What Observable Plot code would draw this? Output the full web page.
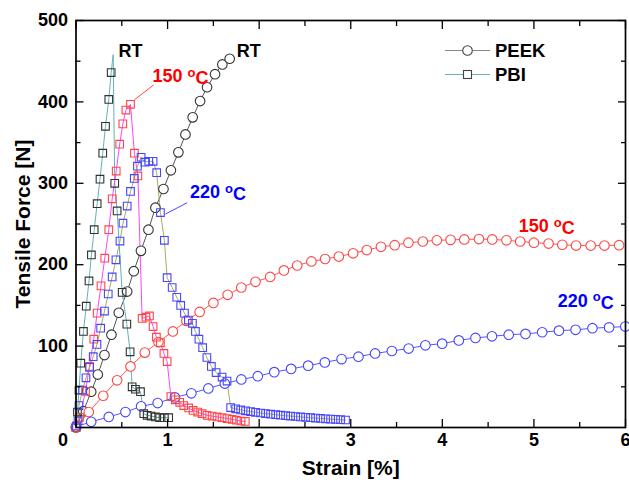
<!DOCTYPE html>
<html><head><meta charset="utf-8">
<script src="https://cdn.jsdelivr.net/npm/d3@7"></script>
<script src="https://cdn.jsdelivr.net/npm/@observablehq/plot@0.6"></script>
<style>
body{margin:0;background:#fff;}
#chart{width:629px;height:482px;}
</style>
</head><body><div id="chart"></div>
<script>
// ---------- axis ticks & titles ----------
const xTicks = [0, 1, 2, 3, 4, 5, 6];
const xMinorTicks = [0.5, 1.5, 2.5, 3.5, 4.5, 5.5];
const yTicks = [100, 200, 300, 400, 500];
const yMinorTicks = [50, 150, 250, 350, 450];
const xTitle = "Strain [%]";
const yTitle = "Tensile Force [N]";
const legendLabels = ["PEEK", "PBI"];

// ---------- PEEK ----------
const peekRT_strain = [0, 0.08, 0.166, 0.238, 0.311, 0.387, 0.467, 0.559, 0.631, 0.709, 0.791, 0.867, 0.955, 1.036, 1.118, 1.195, 1.274, 1.355, 1.431, 1.518, 1.598, 1.678];
const peekRT_force  = [0, 20, 44, 65, 89, 114, 141, 167, 192, 217, 243, 270, 293, 316, 338, 360, 381, 401, 418, 434, 446, 453];

const peek150_strain = [0, 0.14, 0.297, 0.449, 0.595, 0.751, 0.9, 1.058, 1.205, 1.35, 1.5, 1.656, 1.805, 1.96, 2.12, 2.27, 2.415, 2.57, 2.72, 2.87, 3.026, 3.175, 3.33, 3.48, 3.63, 3.787, 3.94, 4.09, 4.24, 4.4, 4.545, 4.7, 4.85, 5.0, 5.16, 5.31, 5.46, 5.62, 5.77, 5.93];
const peek150_force  = [0, 19, 39, 58, 75, 92, 105, 118, 131, 142, 153, 163, 172, 179, 185, 193, 199, 204, 207, 210, 214, 218, 222, 224, 227, 228.5, 230, 230.5, 231, 231.5, 231, 230, 228.5, 227, 226, 224.5, 223.5, 223.5, 223.5, 224];

const peek220_strain = [0, 0.166, 0.358, 0.54, 0.711, 0.892, 1.08, 1.26, 1.445, 1.625, 1.805, 1.985, 2.165, 2.349, 2.535, 2.717, 2.9, 3.084, 3.266, 3.449, 3.632, 3.815, 3.998, 4.18, 4.362, 4.542, 4.725, 4.908, 5.09, 5.273, 5.455, 5.639, 5.821, 5.998];
const peek220_force  = [1, 7, 13, 19, 26, 30, 37, 42, 48, 54, 59, 63, 68, 72, 76, 80, 84, 87, 91, 94, 97, 101, 103, 107, 110, 112, 114, 115, 117, 119, 120, 122, 123, 124];

// ---------- PBI ----------
const pbiRT_strain = [0, 0.016, 0.033, 0.052, 0.081, 0.112, 0.142, 0.168, 0.199, 0.231, 0.262, 0.292, 0.322, 0.358, 0.384, 0.423, 0.449, 0.504, 0.555, 0.591, 0.613, 0.649, 0.704, 0.74, 0.777, 0.82, 0.867, 0.914, 0.965, 1.012];
const pbiRT_force  = [0, 19, 46, 79, 118, 149, 180, 212, 243, 275, 305, 337, 370, 403, 436, 300, 266, 166, 127, 93, 50, 47, 44, 17, 15, 14, 13, 12, 12, 12];
const pbiRT_peak = {strain: 0.406, force: 458, after: 15};   // unmarked line vertex (break point)

const pbi150_strain = [0, 0.038, 0.104, 0.147, 0.194, 0.231, 0.273, 0.314, 0.358, 0.395, 0.439, 0.477, 0.511, 0.545, 0.595, 0.638, 0.676, 0.722, 0.764, 0.802, 0.842, 0.878, 0.922, 0.96, 0.995, 1.036, 1.085, 1.132, 1.176, 1.23, 1.278, 1.329, 1.377, 1.431, 1.486, 1.54, 1.595, 1.649, 1.704, 1.751, 1.802, 1.849];
const pbi150_force  = [0, 12.5, 44.5, 75, 108.5, 140.5, 174, 208, 243, 281, 315, 348, 373, 390, 397, 337, 309, 134, 135.5, 137, 124, 111, 104, 91, 81, 38, 34, 31, 27, 24, 21, 19, 17, 15, 14, 13, 12, 11, 10, 9, 8, 7.5];

const pbi220_strain = [0.005, 0.022, 0.033, 0.071, 0.109, 0.149, 0.188, 0.229, 0.269, 0.311, 0.352, 0.395, 0.436, 0.48, 0.513, 0.559, 0.595, 0.636, 0.671, 0.711, 0.753, 0.794, 0.842, 0.881, 0.922, 0.965, 0.995, 1.05, 1.1, 1.143, 1.184, 1.227, 1.271, 1.304, 1.342, 1.383, 1.429, 1.478, 1.53, 1.595, 1.649, 1.689, 1.743, 1.798, 1.852, 1.907, 1.961, 2.016, 2.07, 2.125, 2.18, 2.234, 2.289, 2.343, 2.398, 2.452, 2.507, 2.561, 2.616, 2.67, 2.725, 2.78, 2.834, 2.889, 2.943];
const pbi220_force  = [2, 8, 27, 46, 61, 74, 87, 102, 122, 143, 164, 185, 206, 229, 251, 272, 290, 306, 321, 332, 326, 327, 327, 313, 264, 230, 184, 172, 160, 150, 140.5, 132, 128, 118, 108.5, 98, 86, 75, 67.5, 62, 57, 24.5, 23, 21.6, 20.5, 19.6, 18.7, 17.8, 17.1, 16.4, 15.7, 15.1, 14.5, 14, 13.5, 13, 12.5, 12, 11.6, 11.1, 10.7, 10.3, 10, 9.6, 9.2];

// ---------- annotations ----------
const annText   = ["RT", "RT", "150 oC", "220 oC", "150 oC", "220 oC"];
const annStrain = [0.464, 1.756, 0.835, 1.244, 4.835, 5.259];
const annForce  = [455, 455, 424.5, 281.5, 240, 148.5];
const annKind   = ["RT", "RT", "150", "220", "150", "220"];
const connKind   = ["150", "220"];
const connStrain1 = [0.638, 0.976], connForce1 = [402.6, 262.2];
const connStrain2 = [0.849, 1.213], connForce2 = [420.9, 276.1];

// ---------- styles ----------
const markerColor = {RT: "#333333", "150": "#ff4646", "220": "#4646ff"};
const textColor   = {RT: "#000000", "150": "#ff0000", "220": "#0000ff"};
const peekLineColor = {RT: "#555555", "150": "#ff5555", "220": "#5555ff"};
const pbiLineColor  = {RT: "#66b2b2", "150": "#ff44ff", "220": "#aaa868"};

const series = [
  {mat: "PEEK", kind: "RT",  x: peekRT_strain,  y: peekRT_force},
  {mat: "PEEK", kind: "150", x: peek150_strain, y: peek150_force},
  {mat: "PEEK", kind: "220", x: peek220_strain, y: peek220_force},
  {mat: "PBI",  kind: "RT",  x: pbiRT_strain,   y: pbiRT_force, peak: pbiRT_peak},
  {mat: "PBI",  kind: "150", x: pbi150_strain,  y: pbi150_force},
  {mat: "PBI",  kind: "220", x: pbi220_strain,  y: pbi220_force}
];

function pts(s) { return s.x.map((v, i) => ({strain: v, force: s.y[i]})); }
function linePts(s) {
  const p = pts(s);
  if (s.peak) p.splice(s.peak.after, 0, {strain: s.peak.strain, force: s.peak.force});
  return p;
}

const FONT = "'Liberation Sans', Arial, Helvetica, sans-serif";
const marks = [];

// lines
for (const s of series) {
  const col = s.mat === "PEEK" ? peekLineColor[s.kind] : pbiLineColor[s.kind];
  marks.push(Plot.line(linePts(s), {x: "strain", y: "force", stroke: col, strokeWidth: 1, curve: "linear"}));
}
// PEEK circles
for (const s of series.filter(d => d.mat === "PEEK")) {
  marks.push(Plot.dot(pts(s), {x: "strain", y: "force", r: 4.8, symbol: "circle", fill: "white", stroke: markerColor[s.kind], strokeWidth: 1.1}));
}
// PBI squares
for (const s of series.filter(d => d.mat === "PBI")) {
  marks.push(Plot.dot(pts(s), {x: "strain", y: "force", r: 4.3, symbol: "square", fill: "none", stroke: markerColor[s.kind], strokeWidth: 1.1}));
}

// annotation connectors
const conn = connKind.map((k, i) => ({k, x1: connStrain1[i], y1: connForce1[i], x2: connStrain2[i], y2: connForce2[i]}));
for (const c of conn) {
  marks.push(Plot.link([c], {x1: "x1", y1: "y1", x2: "x2", y2: "y2", stroke: markerColor[c.k], strokeWidth: 1}));
}
// annotation texts
const ann = annText.map((t, i) => ({t, x: annStrain[i], y: annForce[i], k: annKind[i]}));
for (const a of ann) {
  marks.push(Plot.text([a], {x: "x", y: "y", text: "t", textAnchor: "start", lineAnchor: "bottom",
    fill: textColor[a.k], fontSize: 18, fontWeight: "bold", fontFamily: FONT}));
}

// axes (inward ticks, mirrored)
marks.push(Plot.axisX(xTicks, {anchor: "bottom", tickSize: -8, tickPadding: 14, label: null, fontSize: 18, fontWeight: "bold", fontFamily: FONT, strokeWidth: 1.3}));
marks.push(Plot.axisX(xMinorTicks, {anchor: "bottom", tickSize: -5, fill: "none", label: null, strokeWidth: 1.3}));
marks.push(Plot.axisX(xTicks, {anchor: "top", tickSize: -8, fill: "none", label: null, strokeWidth: 1.3}));
marks.push(Plot.axisX(xMinorTicks, {anchor: "top", tickSize: -5, fill: "none", label: null, strokeWidth: 1.3}));
marks.push(Plot.axisY(yTicks, {anchor: "left", tickSize: -8, tickPadding: 16, label: null, fontSize: 18, fontWeight: "bold", fontFamily: FONT, strokeWidth: 1.3}));
marks.push(Plot.axisY(yMinorTicks, {anchor: "left", tickSize: -5, fill: "none", label: null, strokeWidth: 1.3}));
marks.push(Plot.axisY(yTicks, {anchor: "right", tickSize: -8, fill: "none", label: null, strokeWidth: 1.3}));
marks.push(Plot.axisY(yMinorTicks, {anchor: "right", tickSize: -5, fill: "none", label: null, strokeWidth: 1.3}));
marks.push(Plot.frame({stroke: "black", strokeWidth: 1.7}));

// axis titles
marks.push(Plot.text([xTitle], {text: d => d, frameAnchor: "bottom", dy: 41, textAnchor: "middle", lineAnchor: "middle", fontSize: 21, fontWeight: "bold", fontFamily: FONT}));
marks.push(Plot.text([yTitle], {text: d => d, frameAnchor: "left", dx: -53, rotate: -90, textAnchor: "middle", lineAnchor: "middle", fontSize: 21, fontWeight: "bold", fontFamily: FONT}));

const chart = Plot.plot({
  width: 629, height: 482,
  marginLeft: 75.5, marginRight: 4, marginTop: 20, marginBottom: 55,
  x: {domain: [0, 6]},
  y: {domain: [0, 500]},
  style: {fontFamily: FONT, background: "white", overflow: "visible"},
  marks
});
document.getElementById("chart").appendChild(chart);

const svg = d3.select(chart);

// shift the "0" tick label left (as in the original)
svg.selectAll("text").filter(function() { return this.textContent.trim() === "0"; }).attr("dx", -13);

// superscript "o" in "oC"
svg.selectAll("text").each(function() {
  const m = /^(\d+) oC$/.exec(this.textContent);
  if (!m) return;
  const el = d3.select(this);
  el.text(null);
  el.append("tspan").text(m[1] + " ");
  el.append("tspan").attr("dy", "-0.4em").attr("font-size", "13px").text("o");
  el.append("tspan").attr("dy", "0.4em").text("C");
});

// legend (inside the frame, top right)
const lg = svg.append("g").attr("font-family", FONT).attr("font-weight", "bold").attr("font-size", 18.5).attr("text-anchor", "start");
const legendRows = [
  {label: legendLabels[0], y: 50.5, line: "#888888", sym: "circle"},
  {label: legendLabels[1], y: 74.5, line: pbiLineColor.RT, sym: "square"}
];
for (const r of legendRows) {
  lg.append("line").attr("x1", 445).attr("x2", 490).attr("y1", r.y).attr("y2", r.y).attr("stroke", r.line).attr("stroke-width", 1);
  if (r.sym === "circle") {
    lg.append("circle").attr("cx", 467.5).attr("cy", r.y).attr("r", 4.8).attr("fill", "white").attr("stroke", "#444").attr("stroke-width", 1.1);
  } else {
    lg.append("rect").attr("x", 463.5).attr("y", r.y - 4).attr("width", 8).attr("height", 8).attr("fill", "white").attr("stroke", "#444").attr("stroke-width", 1.1);
  }
  lg.append("text").attr("x", 495).attr("y", r.y + 6.5).attr("text-anchor", "start").attr("fill", "black").text(r.label);
}
</script>
</body></html>
